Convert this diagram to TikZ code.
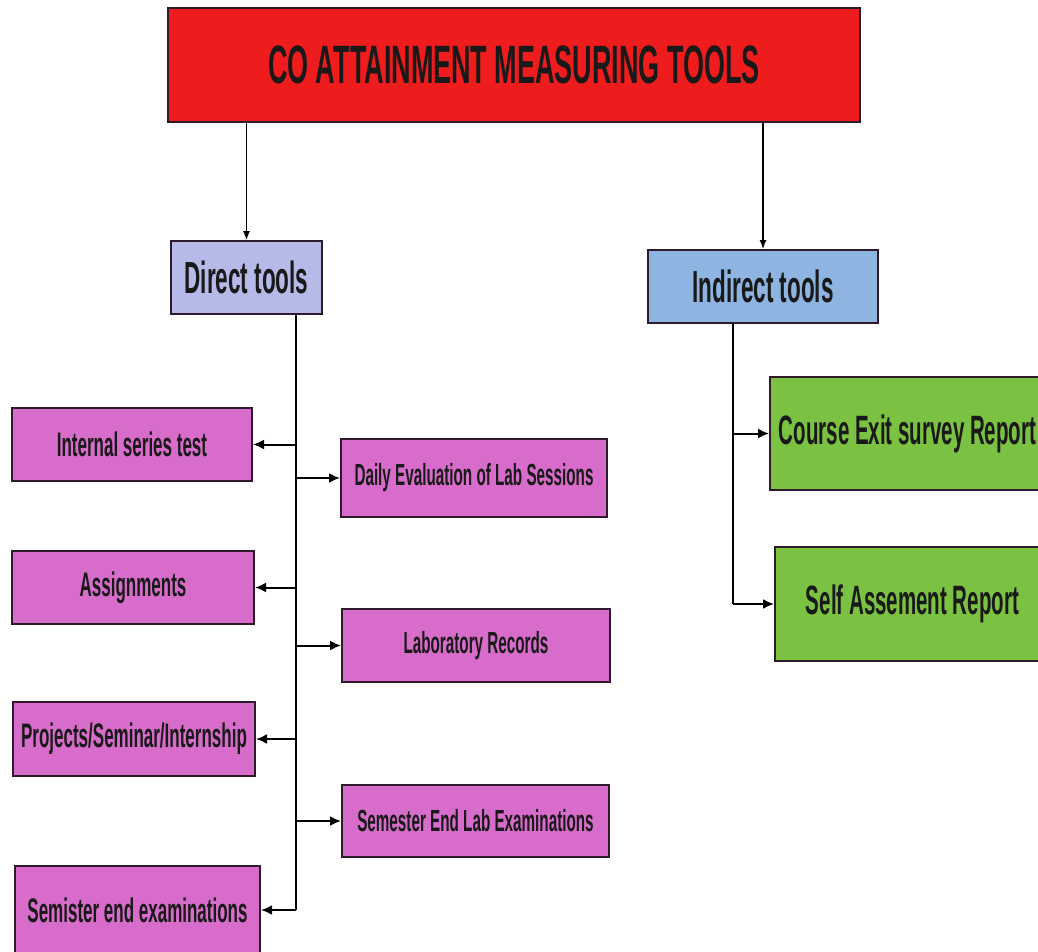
\documentclass[tikz,border=0pt]{standalone}
\usepackage{fontspec}
\newfontfamily\narrowfont{Liberation Sans}[FakeStretch=0.5]
\usetikzlibrary{arrows.meta}

\definecolor{titlered}{HTML}{EE1C1C}
\definecolor{directfill}{HTML}{B6BAE8}
\definecolor{indirectfill}{HTML}{8EB4E2}
\definecolor{toolfill}{HTML}{D86CCB}
\definecolor{reportfill}{HTML}{7BC142}
\definecolor{boxline}{HTML}{2E1A2C}

\tikzset{
  box/.style={rectangle, draw=boxline, line width=2pt, inner sep=0pt, text=black!90},
  bigtext/.style={font=\narrowfont\bfseries\fontsize{54}{58}\selectfont},
  midtext/.style={font=\narrowfont\bfseries\fontsize{45}{48}\selectfont},
  greentext/.style={font=\narrowfont\bfseries\fontsize{41}{44}\selectfont},
  lefttext/.style={font=\narrowfont\bfseries\fontsize{34}{38}\selectfont},
  righttext/.style={font=\narrowfont\bfseries\fontsize{30.5}{34}\selectfont},
  branch/.style={line width=2pt, -{Latex[length=11pt, width=10pt]}},
  topbranch/.style={line width=1.2pt, -{Latex[length=9pt, width=7pt]}},
}

\begin{document}
\begin{tikzpicture}[x=1pt, y=-1pt]
    \useasboundingbox (0,0) rectangle (1038,952);
    \clip (0,0) rectangle (1038,952);

    % top level
    \node[box, bigtext, fill=titlered, minimum width=692, minimum height=114] (title) at (514, 65) {CO ATTAINMENT MEASURING TOOLS};
    \node[box, midtext, fill=directfill, minimum width=151, minimum height=73] (direct) at (246.5, 277.5) {Direct tools};
    \node[box, midtext, fill=indirectfill, minimum width=230, minimum height=73] (indirect) at (763, 286.5) {Indirect tools};

    % direct tools, left column
    \node[box, lefttext, fill=toolfill, minimum width=240, minimum height=73] (internal) at (132, 444.5) {Internal series test};
    \node[box, lefttext, fill=toolfill, minimum width=242, minimum height=73] (assign) at (133, 587.5) {Assignments};
    \node[box, lefttext, fill=toolfill, minimum width=242, minimum height=74] (project) at (134, 739) {Projects/Seminar/Internship};
    \node[box, lefttext, fill=toolfill, minimum width=245, minimum height=88] (semend) at (137.5, 910) {Semister end examinations};

    % direct tools, right column
    \node[box, righttext, fill=toolfill, minimum width=266, minimum height=78] (daily) at (474, 478) {Daily Evaluation of Lab Sessions};
    \node[box, righttext, fill=toolfill, minimum width=268, minimum height=73] (labrec) at (476, 645.5) {Laboratory Records};
    \node[box, righttext, fill=toolfill, minimum width=267, minimum height=72] (labexam) at (475.5, 821) {Semester End Lab Examinations};

    % indirect tools
    \node[box, greentext, fill=reportfill, minimum width=275, minimum height=113] (exit) at (907.5, 433.5) {Course Exit survey Report};
    \node[box, greentext, fill=reportfill, minimum width=275, minimum height=114] (self) at (912.5, 604) {Self Assement Report};

    % connectors
    \draw[topbranch] (title.south -| direct.north) -- (direct.north);
    \draw[topbranch] (title.south -| indirect.north) -- (indirect.north);

    \coordinate (dtrunk) at (296, 910);
    \coordinate (itrunk) at (733, 604);
    \draw[line width=2pt] (direct.south -| dtrunk) -- (dtrunk);
    \draw[line width=2pt] (indirect.south -| itrunk) -- (itrunk);

    \draw[branch] (internal -| dtrunk) -- (internal.east);
    \draw[branch] (assign -| dtrunk) -- (assign.east);
    \draw[branch] (project -| dtrunk) -- (project.east);
    \draw[branch] (dtrunk) -- (semend.east);
    \draw[branch] (daily -| dtrunk) -- (daily.west);
    \draw[branch] (labrec -| dtrunk) -- (labrec.west);
    \draw[branch] (labexam -| dtrunk) -- (labexam.west);

    \draw[branch] (exit -| itrunk) -- (exit.west);
    \draw[branch] (itrunk) -- (self.west);
\end{tikzpicture}
\end{document}
